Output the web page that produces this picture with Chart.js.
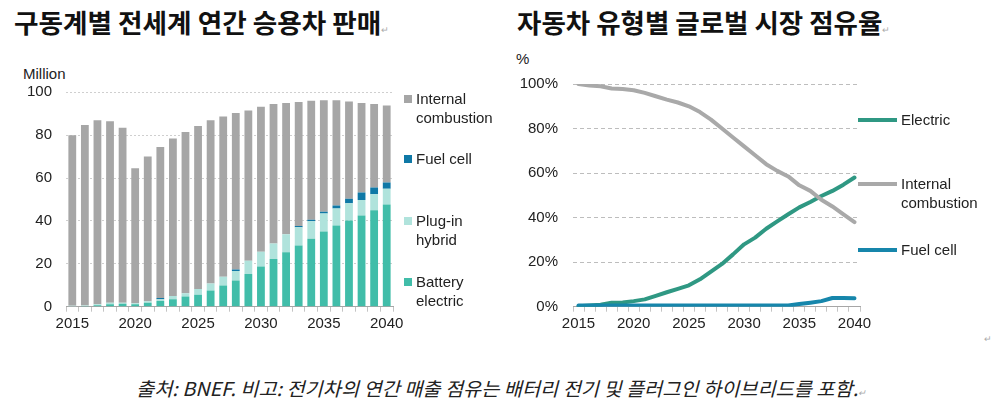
<!DOCTYPE html>
<html>
<head>
<meta charset="utf-8">
<script src="https://cdn.jsdelivr.net/npm/chart.js@4.4.1/dist/chart.umd.min.js"></script>
<style>
  body { margin:0; background:#fff; width:1000px; height:414px; overflow:hidden; position:relative;
         font-family:"Liberation Sans", Arial, sans-serif; color:#222; }
  .abs { position:absolute; white-space:nowrap; }
  .title { font-family:"Noto Sans CJK KR", sans-serif; font-weight:bold; font-size:26px; line-height:1;
           color:#111; transform-origin:left top; }
  .mark { font-size:9px; color:#aaa; font-weight:normal; }
  .leg { font-size:15px; line-height:19px; color:#222; }
  .sq { position:absolute; width:8px; height:8px; }
  .ln { position:absolute; width:39px; height:4px; }
  #foot { font-family:"Noto Sans CJK KR", sans-serif; font-style:italic; font-size:19px; line-height:1;
          color:#222; transform-origin:left top; }
</style>
</head>
<body>
<div class="abs title" id="t1" style="left:14px; top:9px;">구동계별 전세계 연간 승용차 판매<span class="mark">↵</span></div>
<div class="abs title" id="t2" style="left:517px; top:9px;">자동차 유형별 글로벌 시장 점유율<span class="mark">↵</span></div>

<div class="abs leg" style="left:23px; top:64px;">Million</div>
<div class="abs leg" style="left:516px; top:49px;">%</div>

<div class="abs" style="left:0; top:60px; width:410px; height:280px;"><canvas id="salesChart"></canvas></div>
<div class="abs" style="left:500px; top:60px; width:380px; height:280px;"><canvas id="shareChart"></canvas></div>

<!-- legend, left -->
<div class="sq" style="left:404px; top:95px; background:#a6a6a6;"></div>
<div class="abs leg" style="left:416px; top:89px;">Internal<br>combustion</div>
<div class="sq" style="left:404px; top:155px; background:#0f78a6;"></div>
<div class="abs leg" style="left:416px; top:149px;">Fuel cell</div>
<div class="sq" style="left:404px; top:217px; background:#b0e3dc;"></div>
<div class="abs leg" style="left:416px; top:211px;">Plug-in<br>hybrid</div>
<div class="sq" style="left:404px; top:278px; background:#41bda9;"></div>
<div class="abs leg" style="left:416px; top:272px;">Battery<br>electric</div>

<!-- legend, right -->
<div class="ln" style="left:858px; top:118px; background:#2f9883;"></div>
<div class="abs leg" style="left:901px; top:110px;">Electric</div>
<div class="ln" style="left:858px; top:182px; background:#a9a9a9;"></div>
<div class="abs leg" style="left:901px; top:174px;">Internal<br>combustion</div>
<div class="ln" style="left:858px; top:248px; background:#1686ab;"></div>
<div class="abs leg" style="left:901px; top:240px;">Fuel cell</div>

<div class="abs" id="foot" style="left:136px; top:378px;">출처: BNEF. 비고: 전기차의 연간 매출 점유는 배터리 전기 및 플러그인 하이브리드를 포함.<span class="mark">↵</span></div>
<div class="abs mark" style="left:984px; top:334px;">↵</div>

<script>
// ---- data
const years = [2015,2016,2017,2018,2019,2020,2021,2022,2023,2024,2025,2026,2027,2028,2029,2030,2031,2032,2033,2034,2035,2036,2037,2038,2039,2040]

// million vehicles, left panel
const batteryElectric    = [0.2,0.3,0.7,1.2,1.4,1.2,1.9,2.7,3.5,4.8,5.6,7.5,9.9,12.2,15.2,18.7,22.2,25.4,28.5,31.7,35.1,37.9,40.2,42.5,45.0,47.7]
const plugInHybrid       = [0.2,0.3,0.4,0.6,0.5,0.4,0.7,0.8,1.5,1.5,2.6,3.3,4.1,4.4,6.2,6.9,7.3,8.4,8.6,8.2,8.4,7.9,8.1,7.3,7.5,7.3]
const fuelCellSales      = [0,0,0,0,0,0,0,0.5,0,0,0,0,0,0.8,0,0,0,0,0.5,0.6,0.8,1.4,2.0,3.5,3.1,2.9]
const internalCombustion = [79.6,84.2,85.9,84.7,81.6,63.0,67.4,70.5,73.5,75.2,76.1,76.2,74.7,73.0,70.1,67.7,65.1,61.2,57.9,55.6,52.0,49.1,45.4,41.7,39.0,35.9]

// market share %, right panel
const shareElectric = [0.2,0.5,0.9,1.8,1.9,2.5,3.3,4.9,6.5,8.0,9.6,12.3,15.8,19.2,23.5,28.0,31.0,35.0,38.3,41.5,44.6,47.0,49.7,52.0,54.8,58.0]
const shareInternal = [100,99.3,99.0,98.0,97.8,97.2,96.0,94.5,93.0,91.7,90.0,87.4,84.0,80.0,76.0,72.0,68.0,64.0,61.0,58.5,54.5,52.0,48.0,45.0,41.5,38.0]
const shareFuelCell = [0.5,0.5,0.5,0.5,0.5,0.5,0.5,0.5,0.5,0.5,0.5,0.5,0.5,0.5,0.5,0.5,0.5,0.5,0.5,0.5,1.2,1.8,2.5,3.9,3.9,3.8]

const labelYears = [2015,2020,2025,2030,2035,2040]

// fit titles to the widths in the picture
function fitWidth(id, w){
  const el = document.getElementById(id)
  el.style.transform = 'scaleX(' + (w / el.offsetWidth) + ')'
}
fitWidth('t1', 376)
fitWidth('t2', 374)
fitWidth('foot', 730)

Chart.defaults.font.family = '"Liberation Sans", Arial, sans-serif'
Chart.defaults.font.size = 15
Chart.defaults.color = '#222'
Chart.defaults.animation = false

const xTicks = {
  autoSkip:false, maxRotation:0, padding:3,
  callback: function(v){ return labelYears.includes(years[v]) ? String(years[v]) : '' }
}

//-------------bars
new Chart(document.getElementById('salesChart'), {
  type:'bar',
  data:{
    labels: years,
    datasets:[
      {label:'Battery electric', data:batteryElectric, backgroundColor:'#41bda9'},
      {label:'Plug-in hybrid', data:plugInHybrid, backgroundColor:'#b0e3dc'},
      {label:'Fuel cell', data:fuelCellSales, backgroundColor:'#0f78a6'},
      {label:'Internal combustion', data:internalCombustion, backgroundColor:'#a6a6a6'}
    ]
  },
  options:{
    responsive:true, maintainAspectRatio:false,
    layout:{ padding:{ top:32.3, right:17, left:0, bottom:0 } },
    datasets:{ bar:{ barPercentage:0.62, categoryPercentage:1 } },
    plugins:{ legend:{display:false}, tooltip:{enabled:false} },
    scales:{
      x:{
        stacked:true,
        grid:{ offset:true, drawOnChartArea:false, tickLength:5, color:'#c4c4c4' },
        border:{ color:'#a6a6a6' },
        ticks: xTicks,
        afterFit: s => { s.height = 33.3 }
      },
      y:{
        stacked:true, min:0, max:100,
        ticks:{ stepSize:20, padding:14 },
        grid:{ color:'#cfcfcf', drawTicks:false },
        border:{ display:false, dash:[2,2] },
        afterFit: s => { s.width = 66 }
      }
    }
  }
})

//-------------lines
new Chart(document.getElementById('shareChart'), {
  type:'line',
  data:{
    labels: years,
    datasets:[
      {label:'Fuel cell', data:shareFuelCell, borderColor:'#1686ab'},
      {label:'Internal combustion', data:shareInternal, borderColor:'#a9a9a9'},
      {label:'Electric', data:shareElectric, borderColor:'#2f9883'}
    ]
  },
  options:{
    responsive:true, maintainAspectRatio:false,
    layout:{ padding:{ top:22.3, right:20, left:0, bottom:0 } },
    elements:{ line:{ borderWidth:4, tension:0, borderCapStyle:'round', borderJoinStyle:'round' }, point:{ radius:0 } },
    plugins:{ legend:{display:false}, tooltip:{enabled:false} },
    scales:{
      x:{
        offset:true,
        grid:{ offset:true, drawOnChartArea:false, tickLength:5, color:'#c4c4c4' },
        border:{ color:'#a6a6a6' },
        ticks: xTicks,
        afterFit: s => { s.height = 33.3 }
      },
      y:{
        min:0, max:100,
        ticks:{ stepSize:20, padding:15, callback: v => v + '%' },
        grid:{ color:'#bdbdbd', drawTicks:false },
        border:{ display:false, dash:[4,3] },
        afterFit: s => { s.width = 73 }
      }
    }
  }
})
</script>
</body>
</html>
